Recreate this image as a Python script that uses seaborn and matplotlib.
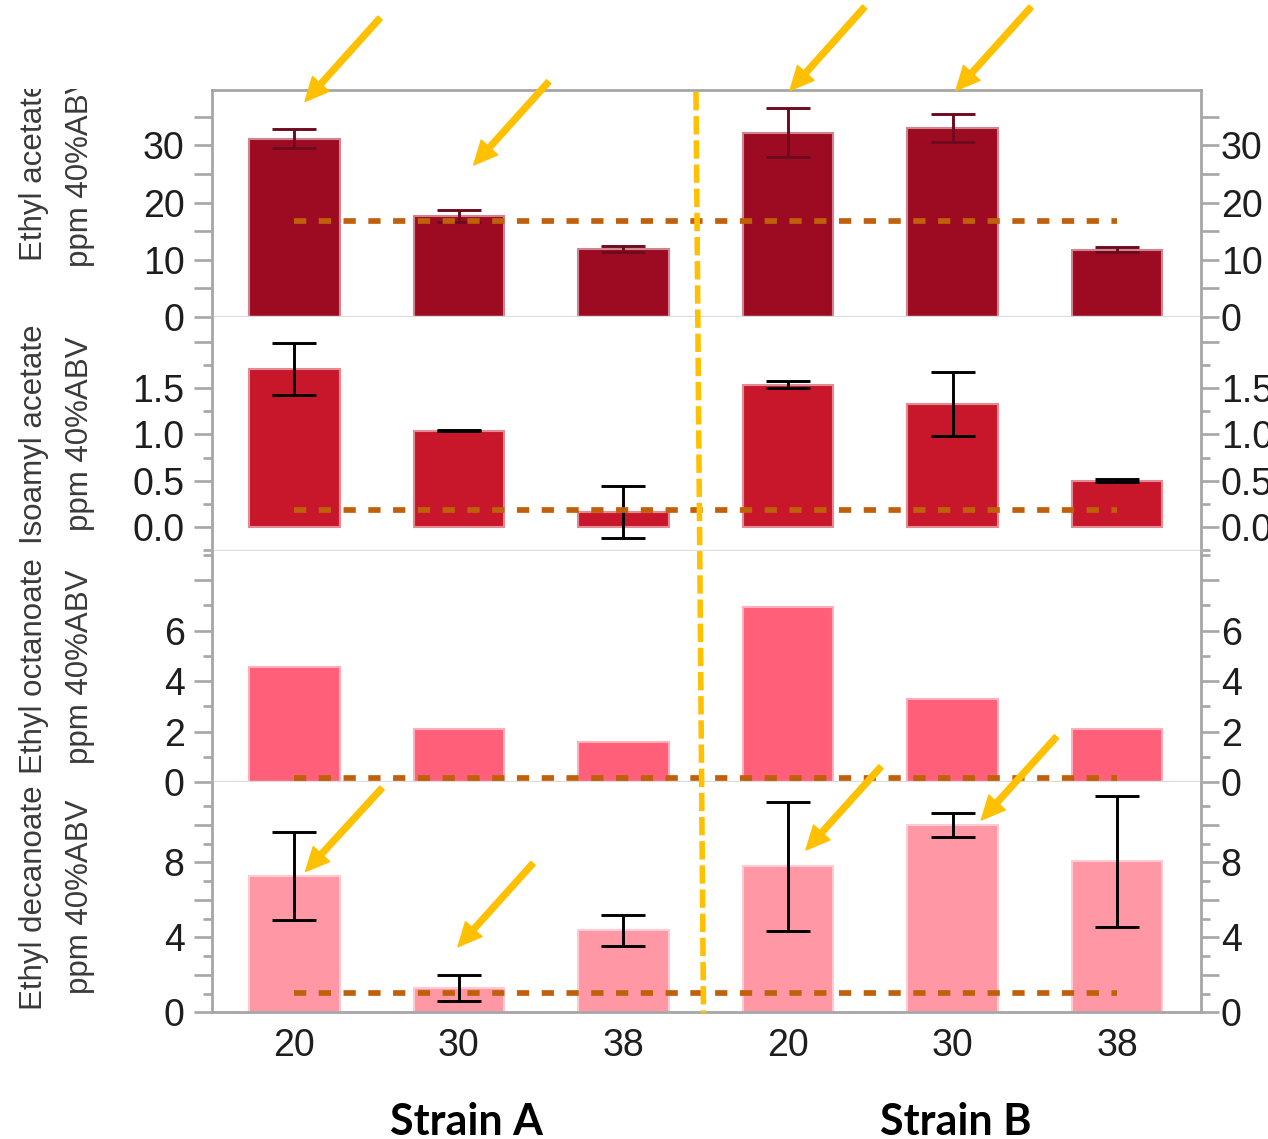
import matplotlib
matplotlib.use("Agg")
import numpy as np
import pandas as pd
import matplotlib.pyplot as plt
import seaborn as sns
from matplotlib import font_manager
from matplotlib.colors import to_rgb, to_hex
from matplotlib.lines import Line2D
from matplotlib.patches import FancyArrowPatch, ArrowStyle
from matplotlib.ticker import FixedLocator, FixedFormatter
from matplotlib.transforms import Bbox, TransformedBbox, blended_transform_factory

# ---------------------------------------------------------------- data
conditions = ["A-20", "A-30", "A-38", "B-20", "B-30", "B-38"]
temperatures = ["20", "30", "38", "20", "30", "38"]
strains = ["Strain A", "Strain B"]

compounds = ["Ethyl acetate", "Isoamyl acetate", "Ethyl octanoate", "Ethyl decanoate"]
unit_label = "ppm 40%ABV"

ethyl_acetate = [31.2, 17.7, 11.9, 32.2, 33.0, 11.8]
ethyl_acetate_err = [1.6, 1.1, 0.5, 4.3, 2.45, 0.5]

isoamyl_acetate = [1.71, 1.04, 0.16, 1.54, 1.33, 0.50]
isoamyl_acetate_err = [0.28, 0.003, 0.28, 0.036, 0.35, 0.02]

ethyl_octanoate = [4.54, 2.09, 1.58, 6.95, 3.30, 2.08]

ethyl_decanoate = [7.3, 1.3, 4.38, 7.8, 10.0, 8.07]
ethyl_decanoate_err = [2.35, 0.71, 0.82, 3.43, 0.63, 3.5]

# odour thresholds (dashed reference lines)
thresholds = [16.8, 0.18, 0.16, 1.05]

values = [ethyl_acetate, isoamyl_acetate, ethyl_octanoate, ethyl_decanoate]
errors = [ethyl_acetate_err, isoamyl_acetate_err, None, ethyl_decanoate_err]

# ---------------------------------------------------------------- axis setup
y_limits = [(0, 39.7), (-0.264, 2.274), (0, 9.15), (0, 12.29)]
major_ticks = [[0, 5, 10, 15, 20, 25, 30, 35],
               [0, 0.5, 1.0, 1.5, 2.0],
               [0, 2, 4, 6, 8],
               [0, 2, 4, 6, 8, 10]]
major_labels = [["0", "", "10", "", "20", "", "30", ""],
                ["0.0", "0.5", "1.0", "1.5", ""],
                ["0", "2", "4", "6", ""],
                ["0", "", "4", "", "8", ""]]
minor_ticks = [[],
               [-0.25, 0.25, 0.75, 1.25, 1.75],
               [1, 3, 5, 7, 9],
               [1, 3, 5, 7, 9, 11]]

# ---------------------------------------------------------------- style
fills = ["#9D0B22", "#C8172B", "#FF5F78", "#FF97A5"]
err_colors = ["#6E0A1E", "#000000", "#000000", "#000000"]
threshold_color = "#C0600A"
highlight = "#FFC000"
axis_gray = "#A6A6A6"
divider_gray = "#DCDCDC"


def lighten(c, amount):
    r, g, b = to_rgb(c)
    return to_hex((r + (1 - r) * amount, g + (1 - g) * amount, b + (1 - b) * amount))


edges = [lighten(c, 0.5) for c in fills]

W, H = 1268, 1139
sns.set_style("white")
installed = {f.name for f in font_manager.fontManager.ttflist}
narrow = "Liberation Sans Narrow" in installed
tick_family = "Liberation Sans Narrow" if narrow else "Liberation Sans"
tick_size = 30 if narrow else 27
plt.rcParams["font.family"] = [tick_family, "DejaVu Sans"]
label_family = ["Liberation Sans", "DejaVu Sans"]
strain_family = ["Lato", "Liberation Sans", "DejaVu Sans"]
tick_color = "#1E1E1E"

fig = plt.figure(figsize=(W / 100, H / 100), dpi=100)
gs = fig.add_gridspec(4, 1, height_ratios=[227, 234, 231, 230.5],
                      left=212 / W, right=1201 / W,
                      top=1 - 90 / H, bottom=1 - 1012.5 / H, hspace=0)
axes = [fig.add_subplot(gs[i]) for i in range(4)]

n = len(conditions)
for i, ax in enumerate(axes):
    df = pd.DataFrame({"condition": conditions, "value": values[i]})
    sns.barplot(data=df, x="condition", y="value", order=conditions,
                color=fills[i], saturation=1, width=0.55,
                edgecolor=edges[i], linewidth=1.5, errorbar=None,
                ax=ax, zorder=2)
    if errors[i] is not None:
        ax.errorbar(np.arange(n), values[i], yerr=errors[i], fmt="none",
                    ecolor=err_colors[i], elinewidth=2.1, capsize=15.5,
                    capthick=2.1, zorder=3)
    ax.plot([0, n - 1], [thresholds[i], thresholds[i]], color=threshold_color,
            linewidth=4.1, linestyle=(0, (2.15, 2.2)), solid_capstyle="butt",
            zorder=4)

    ax.set_xlim(-0.5, 5.51)
    ax.set_ylim(*y_limits[i])
    ax.set_xlabel("")
    ax.set_ylabel("")

    # left axis
    ax.yaxis.set_major_locator(FixedLocator(major_ticks[i]))
    ax.yaxis.set_major_formatter(FixedFormatter(major_labels[i]))
    ax.yaxis.set_minor_locator(FixedLocator(minor_ticks[i]))
    ax.tick_params(axis="y", which="both", direction="out", color=axis_gray,
                   width=1.9, left=True, right=False, labelleft=True,
                   labelright=False, labelsize=tick_size, labelcolor=tick_color)
    ax.tick_params(axis="y", which="major", length=13.2, pad=6.5)
    ax.tick_params(axis="y", which="minor", length=6.5)

    # right axis mirrors the left one
    sec = ax.secondary_yaxis("right")
    sec.yaxis.set_major_locator(FixedLocator(major_ticks[i]))
    sec.yaxis.set_major_formatter(FixedFormatter(major_labels[i]))
    sec.yaxis.set_minor_locator(FixedLocator(minor_ticks[i]))
    sec.tick_params(axis="y", which="both", direction="out", color=axis_gray,
                    width=1.9, labelsize=tick_size, labelcolor=tick_color)
    sec.tick_params(axis="y", which="major", length=13.2, pad=1)
    sec.tick_params(axis="y", which="minor", length=6.5)
    sec.spines["right"].set_color(axis_gray)
    sec.spines["right"].set_linewidth(2.0)

    for side in ("left",):
        ax.spines[side].set_color(axis_gray)
        ax.spines[side].set_linewidth(2.0)
    ax.spines["right"].set_visible(False)
    if i == 0:
        ax.spines["top"].set_color(axis_gray)
        ax.spines["top"].set_linewidth(2.0)
    else:
        ax.spines["top"].set_visible(False)
    if i == 3:
        ax.spines["bottom"].set_color(axis_gray)
        ax.spines["bottom"].set_linewidth(2.0)
    else:
        ax.spines["bottom"].set_color(divider_gray)
        ax.spines["bottom"].set_linewidth(2.4)

    ax.set_xticks(range(n))
    if i == 3:
        ax.set_xticklabels(temperatures)
        ax.tick_params(axis="x", length=0, pad=11, labelsize=tick_size,
                       labelcolor=tick_color)
    else:
        ax.tick_params(axis="x", length=0, labelbottom=False)

    # two-line compound label at the left edge
    trans = blended_transform_factory(fig.transFigure, ax.transAxes)
    yc = 0.648 if i == 0 else 0.5
    for text, xpx in ((compounds[i], 42), (unit_label, 88)):
        t = fig.text(xpx / W, yc, text, transform=trans, rotation=90,
                     rotation_mode="anchor", ha="center", va="baseline",
                     fontsize=22.5, color="#3A3A3A", family=label_family)
        if i == 0:
            t.set_clip_box(TransformedBbox(Bbox([[0, 0], [1, 1 - 89 / H]]),
                                           fig.transFigure))
            t.set_clip_on(True)

# strain group labels
for name, xpx in zip(strains, (466, 956)):
    fig.text(xpx / W, 1 - 1135 / H, name, ha="center", va="baseline",
             fontsize=31, fontweight="bold", color="black", family=strain_family)

# dashed divider between the two strains
fig.add_artist(Line2D([696 / W, 703.5 / W], [1 - 92 / H, 1 - 1013 / H],
                      transform=fig.transFigure, color=highlight, linewidth=4.0,
                      linestyle=(0, (3.3, 1.05)), dash_capstyle="butt",
                      zorder=6))

# highlight arrows (tail -> tip, pixel positions from the top-left corner)
arrow_spots = [((380, 18), (305, 101.5)),
               ((548.7, 81.7), (473.7, 165)),
               ((864.6, 7), (790, 90.5)),
               ((1031, 7), (956, 90.5)),
               ((382, 788), (305.5, 871.5)),
               ((533, 863.3), (458, 946.7)),
               ((881, 766.7), (806, 850)),
               ((1056.5, 736.7), (981.3, 820))]
style = ArrowStyle("simple", head_length=17, head_width=16, tail_width=4.2)
for (tx, ty), (hx, hy) in arrow_spots:
    fig.add_artist(FancyArrowPatch((tx / W, 1 - ty / H), (hx / W, 1 - hy / H),
                                   transform=fig.transFigure, arrowstyle=style,
                                   mutation_scale=1, color=highlight,
                                   shrinkA=0, shrinkB=0, zorder=7))

fig.savefig("out.png", dpi=100)
